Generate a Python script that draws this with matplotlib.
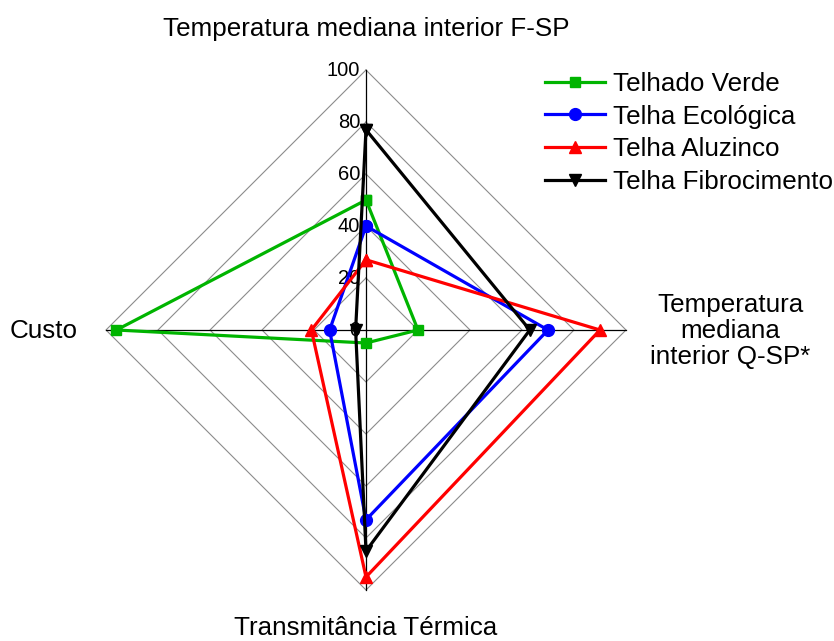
import numpy as np
import matplotlib
matplotlib.use("Agg")
import matplotlib.pyplot as plt

plt.rcParams['font.family'] = ['Liberation Sans', 'DejaVu Sans']

# Criteria (clockwise from the top) and the four roof types
categories = ["Temperatura mediana interior F-SP",
              "Temperatura\nmediana\ninterior Q-SP*",
              "Transmitância Térmica",
              "Custo"]
series_names = ["Telhado Verde", "Telha Ecológica", "Telha Aluzinco", "Telha Fibrocimento"]
telhado_verde = [50, 20, 5, 96]
telha_ecologica = [40, 70, 73, 14]
telha_aluzinco = [27, 90, 95, 21]
telha_fibrocimento = [77, 63, 85, 4]
radial_ticks = [0, 20, 40, 60, 80, 100]

series = [telhado_verde, telha_ecologica, telha_aluzinco, telha_fibrocimento]
colors = ["#00b400", "#0000ff", "#ff0000", "#000000"]
markers = ["s", "o", "^", "v"]
msizes = [7, 8.5, 8.5, 8.5]

W, H = 834, 641
cx, cy = 366, 330          # centre of the chart in pixels
scale = 2.6                # pixels per unit of value

fig = plt.figure(figsize=(W / 100, H / 100), dpi=100)
ax = fig.add_axes([0, 0, 1, 1])
ax.set_xlim(-cx / scale, (W - cx) / scale)
ax.set_ylim(-(H - cy) / scale, cy / scale)
ax.axis("off")

n = len(categories)
angles = np.pi / 2 - np.arange(n) * 2 * np.pi / n   # top, right, bottom, left
ux, uy = np.cos(angles), np.sin(angles)

# polygonal grid
for r in radial_ticks[1:]:
    gx = np.append(r * ux, r * ux[0])
    gy = np.append(r * uy, r * uy[0])
    ax.plot(gx, gy, color="#8c8c8c", lw=0.8, zorder=1)

# spokes
rmax = radial_ticks[-1]
for i in range(n):
    ax.plot([0, rmax * ux[i]], [0, rmax * uy[i]], color="black", lw=0.9, zorder=2)

# radial tick labels along the top spoke
for r in radial_ticks:
    ax.text(-2.3, r, str(r), ha="right", va="center", fontsize=14.5, zorder=1.5)

# data series
for vals, name, c, m, ms in zip(series, series_names, colors, markers, msizes):
    v = np.asarray(vals, dtype=float)
    px = np.append(v * ux, v[0] * ux[0])
    py = np.append(v * uy, v[0] * uy[0])
    ax.plot(px, py, color=c, lw=2.3, marker=m, markersize=ms,
            markeredgecolor=c, label=name, zorder=3)

# category labels
fs = 18.7
ax.text(0, (cy - 29) / scale, categories[0], ha="center", va="center", fontsize=fs)
ax.text((730 - cx) / scale, -1 / scale, categories[1], ha="center", va="center",
        fontsize=fs, linespacing=1.12)
ax.text(0, -(635 - cy) / scale, categories[2], ha="center", va="baseline", fontsize=fs)
ax.text(-(cx - 44) / scale, -1 / scale, categories[3], ha="center", va="center", fontsize=fs)

ax.legend(loc="upper left", bbox_to_anchor=(545 / W, 1 - 72 / H),
          frameon=False, fontsize=fs, handlelength=2.3, handletextpad=0.3,
          labelspacing=0.33, numpoints=1, borderaxespad=0, borderpad=0)

fig.savefig("out.png", dpi=100)
